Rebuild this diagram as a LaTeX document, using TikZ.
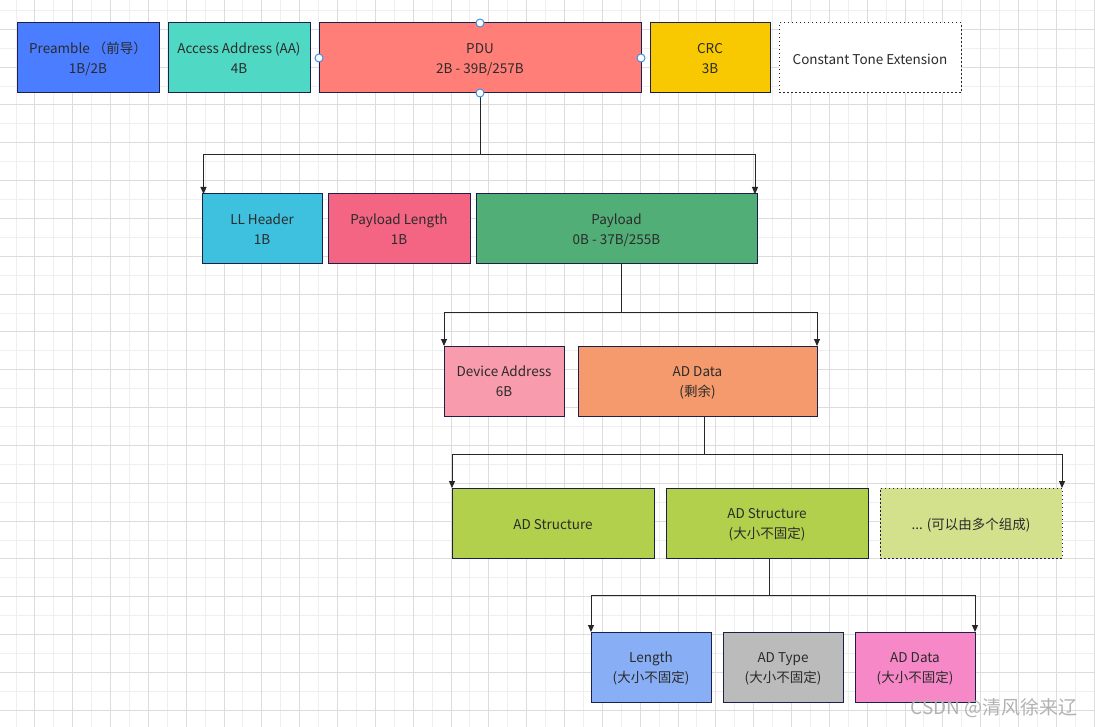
\documentclass[tikz,border=0pt]{standalone}
\usepackage{fontspec}
\setmainfont{Noto Sans CJK SC}
\usetikzlibrary{arrows.meta,positioning,calc}
\definecolor{navy}{HTML}{1B1F4B}
\definecolor{ink}{HTML}{2B2B2B}
\definecolor{preblue}{HTML}{4A7DFF}
\definecolor{aacyan}{HTML}{4FD8C4}
\definecolor{pdured}{HTML}{FF7F78}
\definecolor{crcyellow}{HTML}{F8C900}
\definecolor{llcyan}{HTML}{3EC1DF}
\definecolor{lenred}{HTML}{F46583}
\definecolor{paygreen}{HTML}{52AE77}
\definecolor{devpink}{HTML}{F79BAD}
\definecolor{adorange}{HTML}{F49A6C}
\definecolor{adlime}{HTML}{B2D04B}
\definecolor{adpale}{HTML}{D3E08C}
\definecolor{lenblue}{HTML}{88AFF5}
\definecolor{typegray}{HTML}{BBBBBB}
\definecolor{valpink}{HTML}{F788C8}
\definecolor{handleblue}{HTML}{3D8EF0}
\definecolor{gridminor}{HTML}{EFEFEF}
\definecolor{gridmajor}{HTML}{DCDCDC}
\newcommand\boxstrut{39.2pt}
\tikzset{box/.style={draw=navy,line width=1pt,outer sep=0pt,minimum height=70pt,inner sep=0pt,align=center,text=ink,font=\fontsize{13.5}{20}\selectfont,execute at begin node={\rule[-4pt]{0pt}{\boxstrut}}},single/.style={/utils/exec={\renewcommand\boxstrut{20.4pt}}},arr/.style={-{Triangle[length=7pt,width=6pt]},line width=1pt,draw=black!85},stem/.style={line width=1pt,draw=black!85},dots/.style={dash pattern=on 1.5pt off 2.5pt},minor/.style={draw=gridminor,line width=1pt},major/.style={draw=gridmajor,line width=1pt},handle/.style={draw=handleblue,fill=white,line width=1pt}}

\begin{document}
\begin{tikzpicture}[x=1pt,y=-1pt]
\useasboundingbox (0,0) rectangle (1095,727);
\fill[white] (0,0) rectangle (1095,727);
% grid
\foreach \k in {0,...,28} \draw[minor] ({16+37.83*\k},0)--++(0,727);
\foreach \k in {0,...,18} \draw[minor] (0,{10.4+37.83*\k})--++(1095,0);
\foreach \k in {0,...,28} \draw[major] ({34.9+37.83*\k},0)--++(0,727);
\foreach \k in {0,...,18} \draw[major] (0,{29.3+37.83*\k})--++(1095,0);
% packet
\node[box,fill=preblue,minimum width=142pt,anchor=west] (preamble) at (17,58) {Preamble （前导）\\1B/2B};
\node[box,fill=aacyan,minimum width=142pt,right=9pt of preamble] (access) {Access Address (AA)\\4B};
\node[box,fill=pdured,minimum width=322pt,right=9pt of access] (pdu) {PDU\\2B - 39B/257B};
\node[box,fill=crcyellow,minimum width=120pt,right=9pt of pdu] (crc) {CRC\\3B};
\node[box,single,dots,draw=black!85,fill=white,minimum width=182pt,right=9pt of crc] (cte) {Constant Tone Extension};
% pdu
\node[box,fill=llcyan,minimum width=120pt,anchor=west] (llheader) at (202,229) {LL Header\\1B};
\node[box,fill=lenred,minimum width=142pt,right=6pt of llheader] (paylen) {Payload Length\\1B};
\node[box,fill=paygreen,minimum width=281pt,right=6pt of paylen] (payload) {Payload\\0B - 37B/255B};
% payload
\node[box,fill=devpink,minimum width=120pt,anchor=west] (devaddr) at (444,381) {Device Address\\6B};
\node[box,fill=adorange,minimum width=239pt,right=14pt of devaddr] (addata) {AD Data\\(剩余)};
% ad data
\node[box,single,fill=adlime,minimum width=202pt,anchor=west] (adstruct) at (452,523) {AD Structure};
\node[box,fill=adlime,minimum width=202pt,right=12pt of adstruct] (adstructb) {AD Structure\\(大小不固定)};
\node[box,single,dots,fill=adpale,minimum width=182pt,right=12pt of adstructb] (admore) {... (可以由多个组成)};
% ad structure
\node[box,fill=lenblue,minimum width=120pt,anchor=west] (length) at (591,667) {Length\\(大小不固定)};
\node[box,fill=typegray,minimum width=120pt,right=12pt of length] (adtype) {AD Type\\(大小不固定)};
\node[box,fill=valpink,minimum width=120pt,right=12pt of adtype] (advalue) {AD Data\\(大小不固定)};
% connectors
\coordinate (fork1) at ($(pdu.south)+(0,62)$);
\coordinate (fork2) at ($(payload.south)+(5,49)$);
\coordinate (fork3) at ($(addata.south)+(6.5,38)$);
\coordinate (fork4) at ($(adstructb.south)+(2.5,37)$);
\draw[stem] (pdu.south)--(fork1); \draw[arr] (fork1)-|([xshift=1.5pt]llheader.north west); \draw[arr] (fork1)-|([xshift=-2pt]payload.north east);
\draw[stem] (payload.south-|fork2)--(fork2); \draw[arr] (fork2)-|(devaddr.north west); \draw[arr] (fork2)-|(addata.north east);
\draw[stem] (addata.south-|fork3)--(fork3); \draw[arr] (fork3)-|(adstruct.north west); \draw[arr] (fork3)-|(admore.north east);
\draw[stem] (adstructb.south-|fork4)--(fork4); \draw[arr] (fork4)-|(length.north west); \draw[arr] (fork4)-|(advalue.north east);
% selection handles
\foreach \a in {north,south,east,west} \draw[handle] (pdu.\a) circle (4pt);
\node[text=black!30,font=\fontsize{19}{19}\selectfont,anchor=east] (mark) at (1081,708) {CSDN @清风徐来辽};
\end{tikzpicture}
\end{document}
